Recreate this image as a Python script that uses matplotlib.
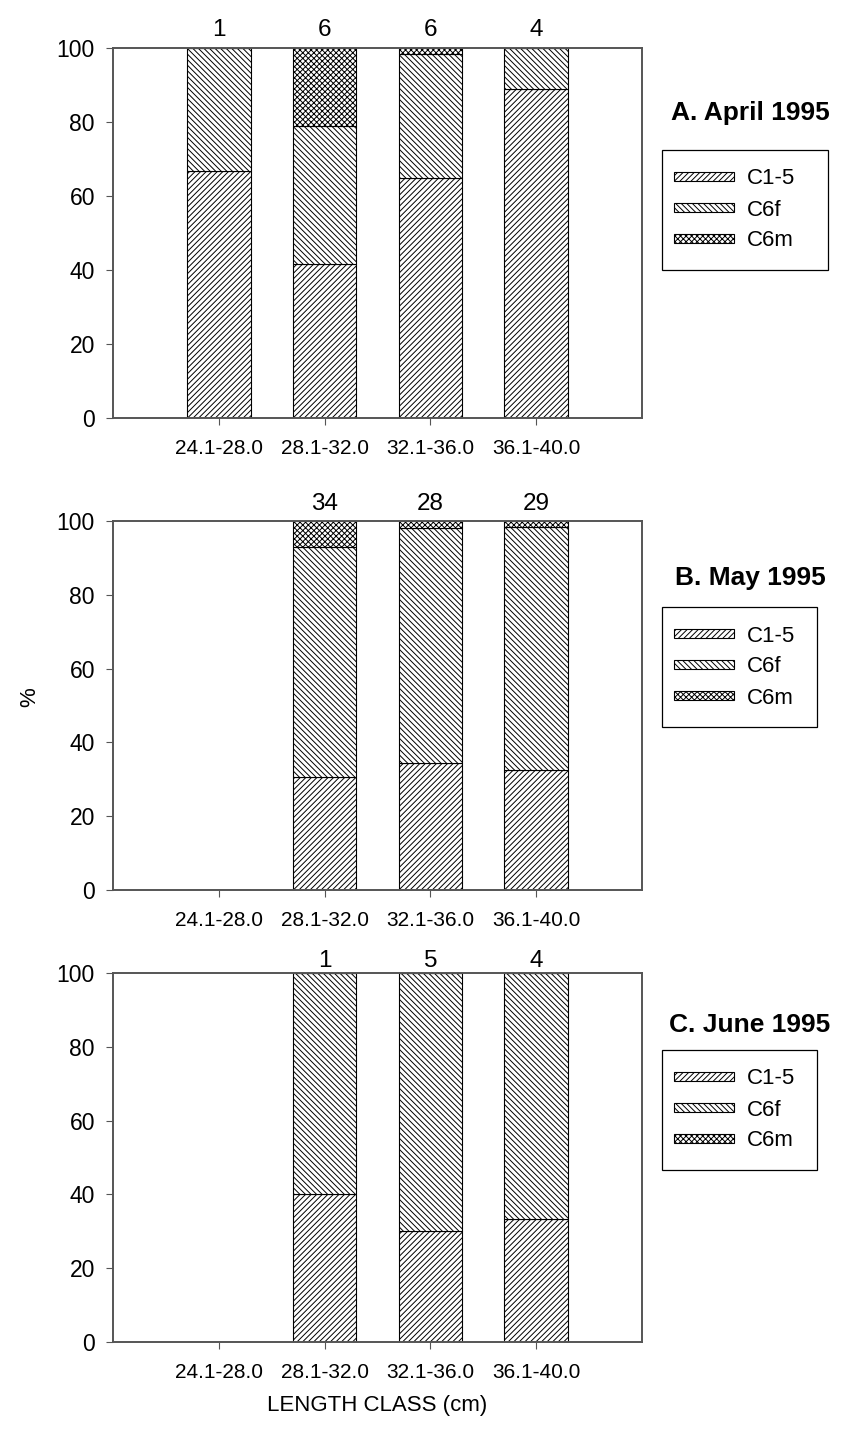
import matplotlib
matplotlib.use("Agg")
import matplotlib.pyplot as plt
from matplotlib.patches import Rectangle

plt.rcParams['font.family'] = ['Liberation Sans', 'DejaVu Sans']
plt.rcParams['hatch.linewidth'] = 0.7

classes = ["24.1-28.0", "28.1-32.0", "32.1-36.0", "36.1-40.0"]
stages = ["C1-5", "C6f", "C6m"]
hatches = ["//////", "\\\\\\\\\\\\", "xxxxxx"]

# percentage of each stage per length class
april_c15 = [66.7, 41.7, 65.0, 89.0]
april_c6f = [33.3, 37.3, 33.5, 11.0]
april_c6m = [0.0, 21.0, 1.5, 0.0]
april_n = [1, 6, 6, 4]

may_c15 = [0.0, 30.5, 34.3, 32.4]
may_c6f = [0.0, 62.4, 63.9, 65.9]
may_c6m = [0.0, 7.1, 1.8, 1.7]
may_n = [None, 34, 28, 29]

june_c15 = [0.0, 40.0, 30.0, 33.3]
june_c6f = [0.0, 60.0, 70.0, 66.7]
june_c6m = [0.0, 0.0, 0.0, 0.0]
june_n = [None, 1, 5, 4]

panels = [
    ("A. April 1995", [april_c15, april_c6f, april_c6m], april_n),
    ("B. May 1995", [may_c15, may_c6f, may_c6m], may_n),
    ("C. June 1995", [june_c15, june_c6f, june_c6m], june_n),
]

W, H = 849, 1429
fig = plt.figure(figsize=(W / 100, H / 100), dpi=100)

# layout in pixels from the top-left corner
boxes = [(48, 418), (521, 890), (973, 1342)]      # axes top, bottom
left_px, right_px = 113, 642
title_y = [113, 578, 1025]
legend_box = [(662, 150, 828, 270), (662, 607, 817, 727), (662, 1050, 817, 1170)]
count_offset = [5, 4.3, 1]


def fx(px):
    return px / W


def fy(px):
    return 1 - px / H


x = list(range(len(classes)))
for (title, series, counts), (top, bot), ty, lb, off in zip(panels, boxes, title_y, legend_box, count_offset):
    ax = fig.add_axes([fx(left_px), fy(bot), (right_px - left_px) / W, (bot - top) / H])
    bottom = [0.0] * len(classes)
    for vals, name, hatch in zip(series, stages, hatches):
        ax.bar(x, vals, width=0.6, bottom=bottom, color="white", edgecolor="black",
               linewidth=0.8, hatch=hatch, label=name)
        bottom = [b + v for b, v in zip(bottom, vals)]
    for xi, n in zip(x, counts):
        if n is not None:
            ax.annotate(str(n), (xi, 100), xytext=(0, off), textcoords="offset points",
                        ha="center", va="bottom", fontsize=17.5)
    ax.set_xlim(-1, 4)
    ax.set_ylim(0, 100)
    ax.set_xticks(x)
    ax.set_xticklabels(classes, fontsize=15)
    ax.set_yticks(range(0, 101, 20))
    ax.tick_params(axis="y", labelsize=16.5, length=5, pad=8, color="#555555")
    ax.tick_params(axis="x", length=5, pad=10, color="#555555")
    for s in ax.spines.values():
        s.set_color("#555555")
        s.set_linewidth(1.4)

    fig.text(fx(750), fy(ty), title, ha="center", va="center",
             fontsize=19, fontweight="bold")

    # legend box drawn separately, entries placed inside it
    x0, y0, x1, y1 = lb
    fig.patches.append(Rectangle((fx(x0), fy(y1)), (x1 - x0) / W, (y1 - y0) / H,
                                 transform=fig.transFigure, facecolor="none",
                                 edgecolor="black", linewidth=0.9))
    ax.legend(loc="center left", bbox_to_anchor=(fx(x0 + 12), fy((y0 + y1) / 2)),
              bbox_transform=fig.transFigure, borderaxespad=0, borderpad=0,
              frameon=False, fontsize=16, handlelength=2.7, handleheight=0.3,
              handletextpad=0.6, labelspacing=0.45)

fig.text(fx(30), fy(697), "%", rotation=90, ha="center", va="center", fontsize=16)
fig.text(fx(377), fy(1406), "LENGTH CLASS (cm)", ha="center", va="center", fontsize=16)

fig.savefig("out.png", dpi=100)
